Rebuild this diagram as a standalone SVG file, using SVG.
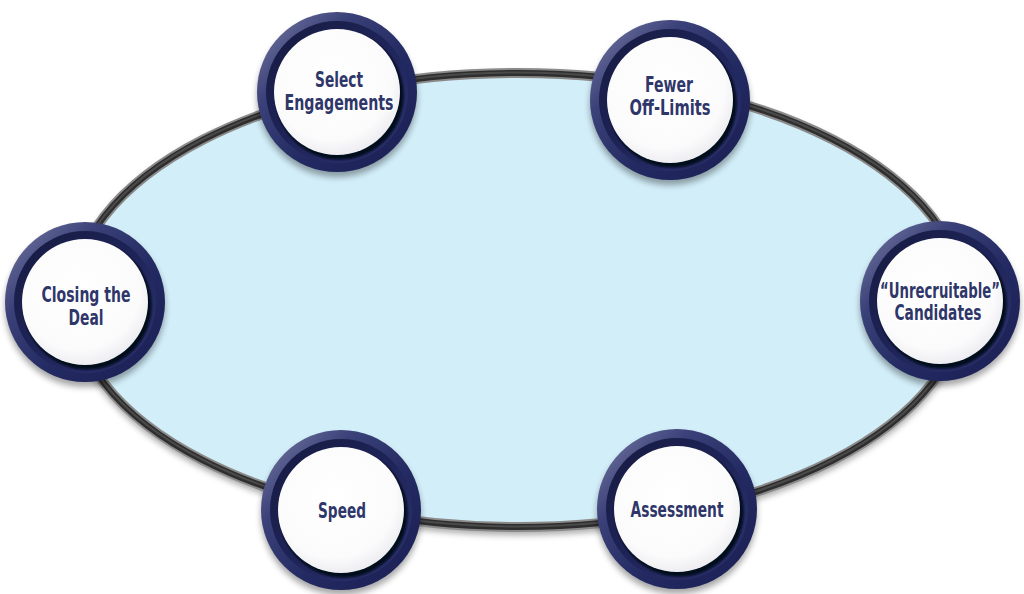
<svg xmlns="http://www.w3.org/2000/svg" xmlns:xlink="http://www.w3.org/1999/xlink" width="1024" height="594" viewBox="0 0 1024 594">
<defs>
<linearGradient id="ringOuter" x1="0" y1="0" x2="1" y2="1">
<stop offset="0" stop-color="#7a7ea6"/>
<stop offset="0.3" stop-color="#3a4078"/>
<stop offset="0.6" stop-color="#232a62"/>
<stop offset="1" stop-color="#1a1f52"/>
</linearGradient>
<linearGradient id="ringInner" x1="0" y1="0" x2="1" y2="1">
<stop offset="0" stop-color="#161a40"/>
<stop offset="0.5" stop-color="#1e2458"/>
<stop offset="1" stop-color="#2e3572"/>
</linearGradient>
<radialGradient id="whiteFill" cx="0.45" cy="0.4" r="0.6">
<stop offset="0" stop-color="#ffffff"/>
<stop offset="0.8" stop-color="#fbfbfc"/>
<stop offset="1" stop-color="#eeeef2"/>
</radialGradient>
<filter id="shadow" x="-30%" y="-30%" width="160%" height="160%">
<feGaussianBlur stdDeviation="3"/>
</filter>
<filter id="inShadow" x="-20%" y="-20%" width="140%" height="140%">
<feGaussianBlur stdDeviation="1.2"/>
</filter>
<g id="ring">
<circle cx="0" cy="5" r="80" fill="#000" opacity="0.35" filter="url(#shadow)"/>
<circle r="80" fill="url(#ringOuter)"/>
<circle r="71" fill="url(#ringInner)"/>
<circle cx="2.5" cy="3.5" r="64" fill="#06081a" filter="url(#inShadow)"/>
<circle r="63" fill="url(#whiteFill)"/>
</g>
<style>
.lbl{font-family:"Liberation Sans Narrow","DejaVu Sans Condensed","Roboto Condensed","Liberation Sans",sans-serif;font-stretch:condensed;font-weight:bold;font-size:21px;fill:#2f3669;text-anchor:middle;stroke:#ffffff;stroke-width:3px;stroke-linejoin:round;paint-order:stroke}
</style>
</defs>
<rect width="1024" height="594" fill="#ffffff"/>
<g id="hub">
<ellipse cx="518" cy="304" rx="445" ry="227" fill="none" stroke="#000" stroke-opacity="0.35" stroke-width="8" filter="url(#shadow)"/>
<ellipse cx="518" cy="300" rx="445" ry="227" fill="#d2eef9" stroke="#8a8a8a" stroke-width="10"/>
<ellipse cx="518" cy="300" rx="445" ry="227" fill="none" stroke="#2e2e2e" stroke-width="6"/>
<ellipse cx="518" cy="299.5" rx="445" ry="227" fill="none" stroke="#4a4a4a" stroke-width="2"/>
</g>
<g id="node-select">
<use xlink:href="#ring" x="337" y="92"/>
<text class="lbl" x="339" y="87" textLength="48" lengthAdjust="spacingAndGlyphs">Select</text>
<text class="lbl" x="339" y="110" textLength="109" lengthAdjust="spacingAndGlyphs">Engagements</text>
</g>
<g id="node-fewer">
<use xlink:href="#ring" x="670" y="100"/>
<text class="lbl" x="669" y="92" textLength="48" lengthAdjust="spacingAndGlyphs">Fewer</text>
<text class="lbl" x="670" y="115" textLength="81" lengthAdjust="spacingAndGlyphs">Off-Limits</text>
</g>
<g id="node-closing">
<use xlink:href="#ring" x="85" y="302"/>
<text class="lbl" x="86" y="302" textLength="89" lengthAdjust="spacingAndGlyphs">Closing the</text>
<text class="lbl" x="86" y="325" textLength="35" lengthAdjust="spacingAndGlyphs">Deal</text>
</g>
<g id="node-unrecruitable">
<use xlink:href="#ring" x="940" y="301"/>
<text class="lbl" x="940" y="298" textLength="120" lengthAdjust="spacingAndGlyphs">“Unrecruitable”</text>
<text class="lbl" x="938" y="320" textLength="87" lengthAdjust="spacingAndGlyphs">Candidates</text>
</g>
<g id="node-speed">
<use xlink:href="#ring" x="341" y="510"/>
<text class="lbl" x="342" y="518" textLength="48" lengthAdjust="spacingAndGlyphs">Speed</text>
</g>
<g id="node-assessment">
<use xlink:href="#ring" x="677" y="509"/>
<text class="lbl" x="677" y="517" textLength="93" lengthAdjust="spacingAndGlyphs">Assessment</text>
</g>
</svg>
